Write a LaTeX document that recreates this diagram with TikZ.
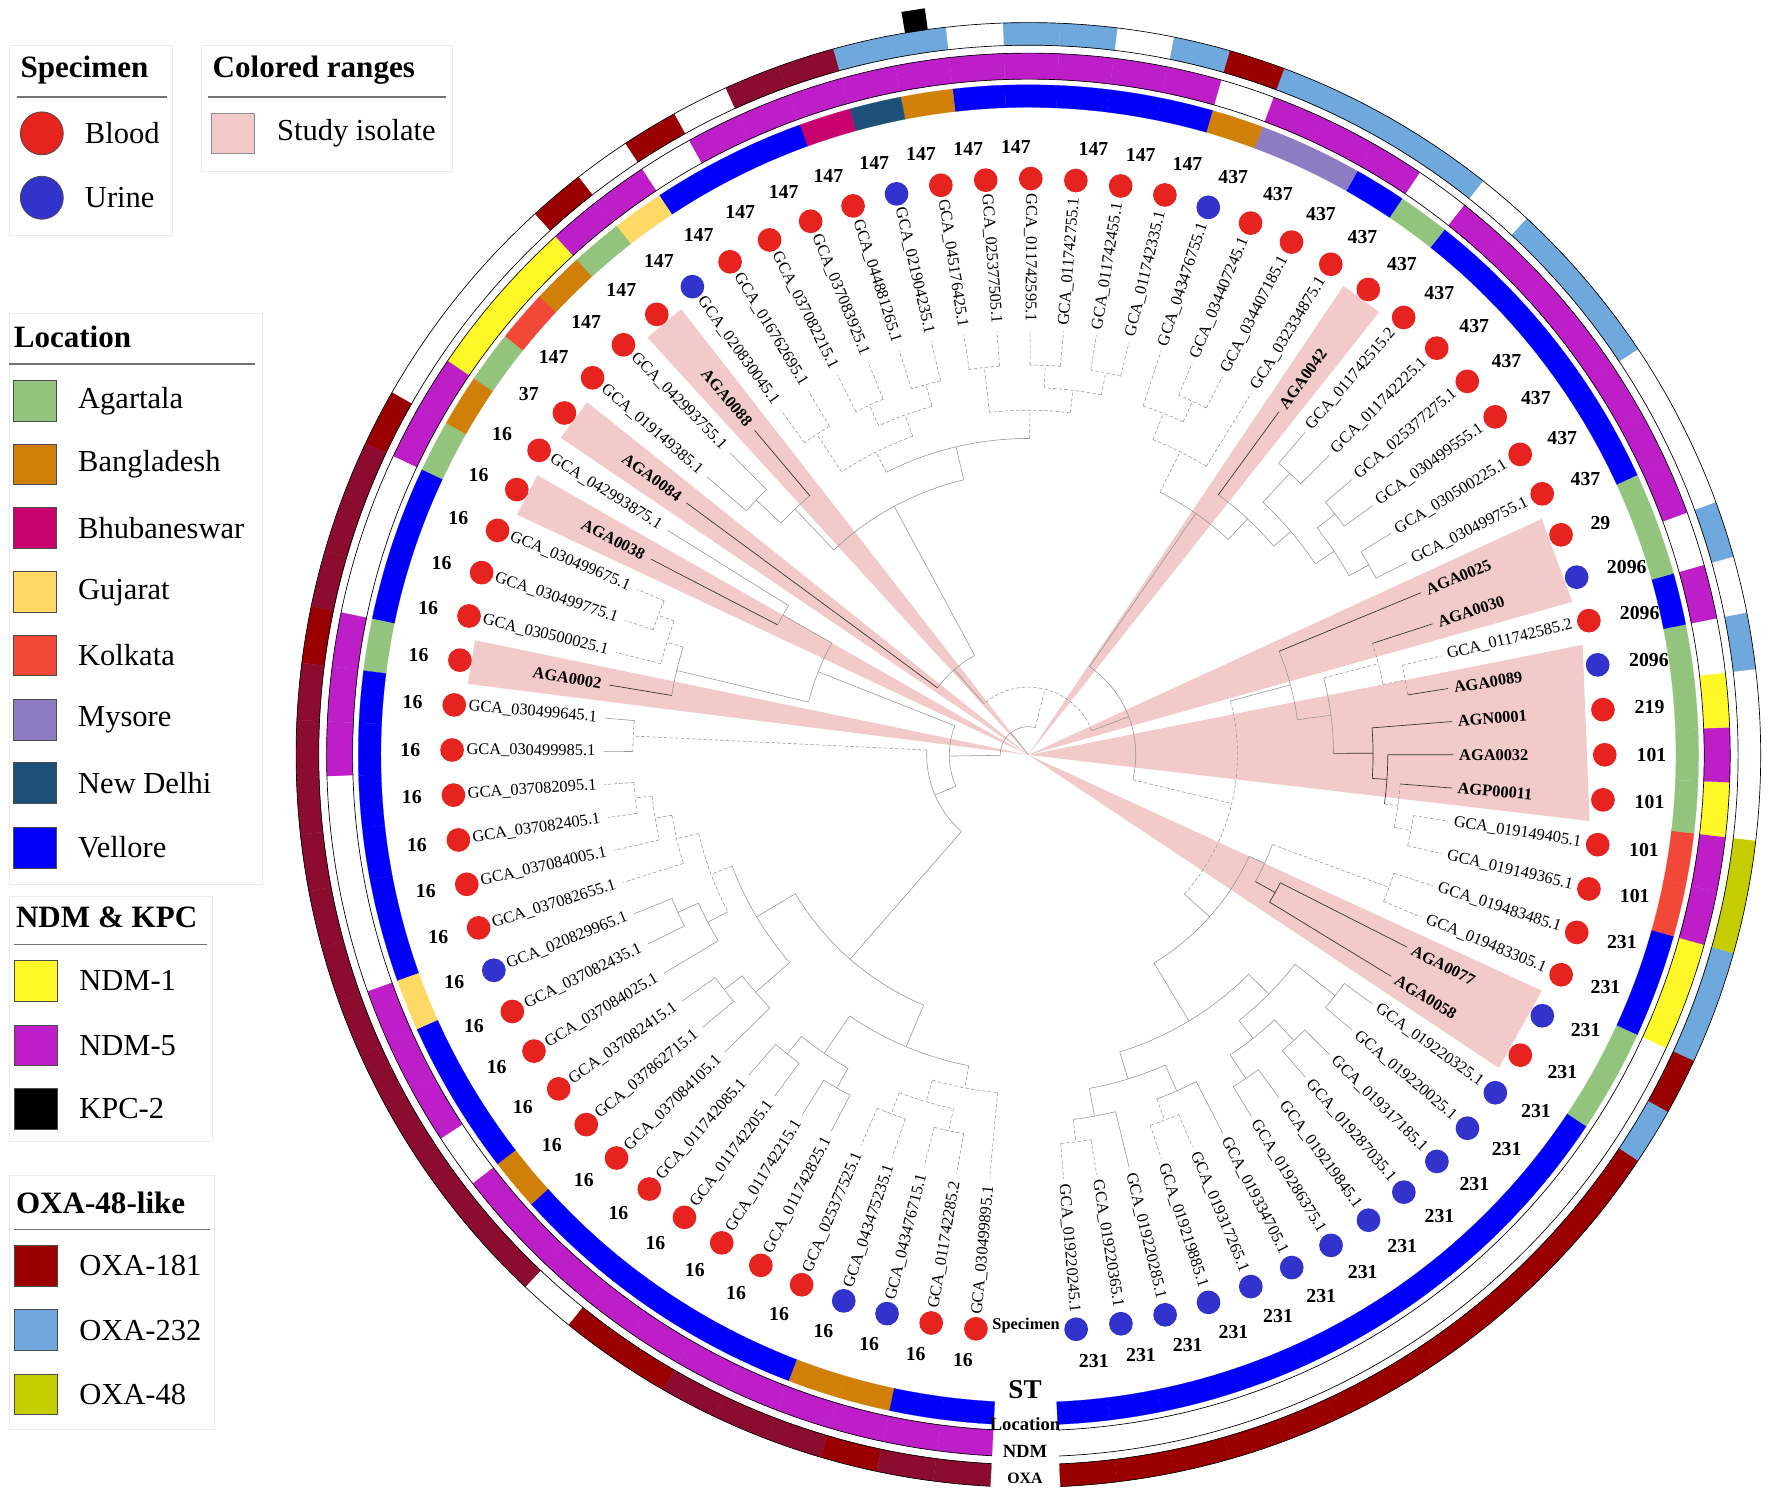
\documentclass[tikz,border=0pt]{standalone}
\usepackage{fontspec}
\setmainfont{Liberation Serif}
\definecolor{pinkr}{RGB}{243,202,202}
\definecolor{locA}{RGB}{147,196,125}
\definecolor{locB}{RGB}{208,128,8}
\definecolor{locH}{RGB}{200,0,110}
\definecolor{locG}{RGB}{255,217,102}
\definecolor{locK}{RGB}{242,72,56}
\definecolor{locM}{RGB}{142,124,195}
\definecolor{locN}{RGB}{28,80,120}
\definecolor{locV}{RGB}{0,0,250}
\definecolor{ndmY}{RGB}{255,248,40}
\definecolor{ndmM}{RGB}{190,30,200}
\definecolor{ndmW}{RGB}{255,255,255}
\definecolor{oxaR}{RGB}{155,0,0}
\definecolor{oxaC}{RGB}{140,12,48}
\definecolor{oxaL}{RGB}{111,168,220}
\definecolor{oxaO}{RGB}{197,204,0}
\definecolor{oxaW}{RGB}{255,255,255}
\definecolor{spr}{RGB}{230,35,30}
\definecolor{spb}{RGB}{50,50,205}
\pgfmathdeclarefunction{lfang}{1}{\pgfmathparse{-85.25+(#1-1)*4.4875}}
\newcommand\fwg{\mdseries}
\newcommand\fws{\bfseries}
\newcommand\TCl[6][trl]{%
 \pgfmathsetmacro\aN{lfang(#6)}%
 \pgfmathsetmacro\aL{lfang(#4)}%
 \pgfmathsetmacro\aH{lfang(#5)}%
 \draw[#1] (\aN:#2) -- (\aN:#3);%
 \draw[#1] (\aL:#3) arc[start angle=\aL, end angle=\aH, radius=#3];%
}
\newcommand\TLf[3][trl]{\pgfmathsetmacro\aN{lfang(#3)}\draw[#1] (\aN:#2) -- (\aN:376);}
\tikzset{
 lbl/.style={font=\fontsize{14.5}{16}\selectfont, inner sep=0pt},
 stl/.style={font=\fontsize{17.5}{20}\selectfont\bfseries, inner sep=0pt},
 spc/.style={circle, minimum size=21pt, inner sep=0pt},
 trl/.style={draw=black!42, line width=0.5pt},
 trd/.style={draw=black!42, line width=0.5pt, dash pattern=on 3pt off 2pt},
 stb/.style={draw=black!80, line width=0.6pt},
 legbox/.style={draw=black!8, line width=0.8pt, fill=white},
 legt/.style={font=\fontsize{27.5}{30}\selectfont\bfseries, anchor=west, inner sep=0pt},
 legi/.style={font=\fontsize{27}{30}\selectfont, anchor=west, inner sep=0pt},
 swatch/.style={draw=black!70, line width=0.7pt, minimum width=38pt, minimum height=36pt, inner sep=0pt},
 legline/.style={draw=black!55, line width=1.2pt},
 bot/.style={font=\bfseries, inner sep=0pt}
}
\begin{document}
\begin{tikzpicture}[x=1pt,y=1pt]
\useasboundingbox (0,0) rectangle (1568,1328);
\begin{scope}[shift={(910,660)}]
% study isolate wedges
\foreach \a/\b in {13/14,19/22,24/25,32/32,49/49,52/52,54/54,58/58}{
  \pgfmathsetmacro\wl{lfang(\a)-2.24375}
  \pgfmathsetmacro\wh{lfang(\b)+2.24375}
  \fill[pinkr] (0,0) -- (\wl:500) -- (\wh:500) -- cycle;
}
% tree
\TCl{0}{25}{36.9}{60.3}{48.6}
\TCl[trd]{25}{60}{24.66}{49.19}{36.9}
\TCl{60}{95}{17.0}{32.31}{24.66}
\TCl[trd]{95}{185}{10.69}{23.33}{17.0}
\TCl{185}{215}{6.875}{14.5}{10.69}
\TCl{215}{275}{3.75}{10}{6.875}
\TCl{275}{300}{2.25}{5.25}{3.75}
\TCl{300}{325}{1.5}{3}{2.25}
\TCl[trd]{325}{345}{1}{2}{1.5}
\TLf[trd]{345}{1}\TLf[trd]{345}{2}\TLf{325}{3}
\TCl{300}{325}{4.5}{6}{5.25}
\TCl[trd]{325}{345}{4}{5}{4.5}
\TLf[trd]{345}{4}\TLf[trd]{345}{5}\TLf{325}{6}
\TCl{275}{300}{8.5}{11.5}{10}
\TCl{300}{320}{7.5}{9.5}{8.5}
\TCl{320}{345}{7}{8}{7.5}\TLf{345}{7}\TLf{345}{8}
\TCl{320}{345}{9}{10}{9.5}\TLf{345}{9}\TLf{345}{10}
\TCl{300}{345}{11}{12}{11.5}\TLf{345}{11}\TLf{345}{12}
\TCl{215}{230}{13.5}{15.5}{14.5}
\TCl[stb]{230}{250}{13}{14}{13.5}\TLf[stb]{250}{13}\TLf[stb]{250}{14}
\TCl[trd]{230}{340}{15}{16}{15.5}\TLf[trd]{340}{15}\TLf[trd]{340}{16}
\TCl{185}{240}{21.66}{25}{23.33}
\TCl{240}{270}{20.06}{23.25}{21.66}
\TCl[stb]{270}{305}{19.125}{21}{20.06}
\TCl[stb]{305}{318}{18.25}{20}{19.125}
\TCl[trd]{318}{330}{17.5}{19}{18.25}
\TCl[trd]{330}{345}{17}{18}{17.5}\TLf[trd]{345}{17}\TLf[trd]{345}{18}
\TLf[stb]{330}{19}\TLf[stb]{318}{20}\TLf[stb]{305}{21}
\TCl[trd]{270}{320}{22.5}{24}{23.25}
\TCl[trd]{320}{340}{22}{23}{22.5}\TLf[stb]{340}{22}\TLf[trd]{340}{23}
\TLf[stb]{320}{24}
\TLf[stb]{240}{25}
\TCl{95}{260}{30.5}{34.125}{32.31}
\TCl{260}{285}{29}{32}{30.5}
\TCl{285}{305}{27.5}{30.5}{29}
\TCl{305}{325}{26.5}{28.5}{27.5}
\TCl{325}{345}{26}{27}{26.5}\TLf{345}{26}\TLf{345}{27}
\TCl{325}{345}{28}{29}{28.5}\TLf{345}{28}\TLf{345}{29}
\TCl{305}{340}{30}{31}{30.5}\TLf{340}{30}\TLf{340}{31}
\TLf[stb]{285}{32}
\TCl[trd]{260}{300}{33}{35.25}{34.125}
\TLf[trd]{300}{33}
\TCl[trd]{300}{325}{34.5}{36}{35.25}
\TCl[trd]{325}{345}{34}{35}{34.5}\TLf[trd]{345}{34}\TLf[trd]{345}{35}
\TLf[trd]{325}{36}
\TCl{60}{100}{46.375}{52}{49.19}
\TCl{100}{250}{43}{49.75}{46.375}
\TCl{250}{280}{40}{46}{43}
\TCl[trd]{280}{305}{38.5}{41.5}{40}
\TCl[trd]{305}{325}{37.5}{39.5}{38.5}
\TCl[trd]{325}{345}{37}{38}{37.5}\TLf[trd]{345}{37}\TLf[trd]{345}{38}
\TCl[trd]{325}{345}{39}{40}{39.5}\TLf[trd]{345}{39}\TLf[trd]{345}{40}
\TCl[trd]{305}{345}{41}{42}{41.5}\TLf[trd]{345}{41}\TLf[trd]{345}{42}
\TCl[trd]{280}{300}{44.5}{47.5}{46}
\TCl[trd]{300}{320}{43.5}{45.5}{44.5}
\TCl[trd]{320}{340}{43}{44}{43.5}\TLf[trd]{340}{43}\TLf[trd]{340}{44}
\TCl[trd]{320}{340}{45}{46}{45.5}\TLf[trd]{340}{45}\TLf[trd]{340}{46}
\TCl[trd]{300}{340}{47}{48}{47.5}\TLf[trd]{340}{47}\TLf[trd]{340}{48}
\TCl{250}{300}{49}{50.5}{49.75}
\TLf[stb]{300}{49}
\TCl{300}{330}{50}{51}{50.5}\TLf{330}{50}\TLf{330}{51}
\TLf[stb]{100}{52}
\TCl{25}{70}{55.3}{65.3}{60.3}
\TCl{70}{200}{53.5}{57.1}{55.3}
\TCl{200}{250}{53}{54}{53.5}\TLf{250}{53}\TLf[stb]{250}{54}
\TCl{200}{320}{56.25}{58}{57.1}
\TCl[trd]{320}{335}{55.5}{57}{56.25}
\TCl[trd]{335}{350}{55}{56}{55.5}\TLf[trd]{350}{55}\TLf[trd]{350}{56}
\TLf[trd]{335}{57}\TLf[stb]{320}{58}
\TCl{70}{90}{59.5}{71.0}{65.3}
\TCl[trd]{90}{350}{59}{60}{59.5}\TLf{350}{59}\TLf{350}{60}
\TCl{90}{240}{66.97}{75.1}{71.0}
\TCl{240}{280}{64.7}{69.25}{66.97}
\TCl[trd]{280}{300}{63.1}{66.25}{64.7}
\TCl[trd]{300}{320}{62.25}{64}{63.1}
\TCl[trd]{320}{335}{61.5}{63}{62.25}
\TCl[trd]{335}{350}{61}{62}{61.5}\TLf[trd]{350}{61}\TLf[trd]{350}{62}
\TLf[trd]{335}{63}\TLf[trd]{320}{64}
\TCl{300}{320}{65.5}{67}{66.25}
\TCl{320}{340}{65}{66}{65.5}\TLf{340}{65}\TLf{340}{66}
\TLf{320}{67}
\TCl{280}{320}{68.5}{70}{69.25}
\TCl{320}{340}{68}{69}{68.5}\TLf{340}{68}\TLf{340}{69}
\TLf{320}{70}
\TCl{240}{280}{72.5}{77.75}{75.1}
\TCl{280}{320}{71.5}{73.5}{72.5}
\TCl{320}{340}{71}{72}{71.5}\TLf{340}{71}\TLf{340}{72}
\TCl{320}{340}{73}{74}{73.5}\TLf{340}{73}\TLf{340}{74}
\TCl[trd]{280}{300}{76.5}{79}{77.75}
\TCl[trd]{300}{320}{75.5}{77.5}{76.5}
\TCl[trd]{320}{340}{75}{76}{75.5}\TLf[trd]{340}{75}\TLf[trd]{340}{76}
\TCl[trd]{320}{340}{77}{78}{77.5}\TLf[trd]{340}{77}\TLf[trd]{340}{78}
\TLf[trd]{300}{79}
% leaves, rings
\foreach \k/\nm/\ls/\sp/\st/\lc/\nc/\oc in {
1/GCA\_019220245.1/g/b/231/V/W/R,
2/GCA\_019220365.1/g/b/231/V/W/R,
3/GCA\_019220285.1/g/b/231/V/W/R,
4/GCA\_019219885.1/g/b/231/V/W/R,
5/GCA\_019317265.1/g/b/231/V/W/R,
6/GCA\_019334705.1/g/b/231/V/W/R,
7/GCA\_019286375.1/g/b/231/V/W/R,
8/GCA\_019219845.1/g/b/231/V/W/R,
9/GCA\_019287035.1/g/b/231/V/W/R,
10/GCA\_019317185.1/g/b/231/V/W/R,
11/GCA\_019220025.1/g/b/231/V/W/R,
12/GCA\_019220325.1/g/b/231/V/W/R,
13/AGA0058/s/r/231/A/W/L,
14/AGA0077/s/b/231/A/W/R,
15/GCA\_019483305.1/g/r/231/V/Y/L,
16/GCA\_019483485.1/g/r/231/V/Y/L,
17/GCA\_019149365.1/g/r/101/K/M/O,
18/GCA\_019149405.1/g/r/101/K/M/O,
19/AGP00011/s/r/101/A/Y/W,
20/AGA0032/s/r/101/A/M/W,
21/AGN0001/s/r/219/A/Y/W,
22/AGA0089/s/b/2096/A/W/L,
23/GCA\_011742585.2/g/r/2096/V/M/W,
24/AGA0030/s/b/2096/A/W/L,
25/AGA0025/s/r/29/A/M/W,
26/GCA\_030499755.1/g/r/437/V/M/W,
27/GCA\_030500225.1/g/r/437/V/M/W,
28/GCA\_030499555.1/g/r/437/V/M/L,
29/GCA\_025377275.1/g/r/437/V/M/L,
30/GCA\_011742225.1/g/r/437/V/M/L,
31/GCA\_011742515.2/g/r/437/V/M/W,
32/AGA0042/s/r/437/A/W/L,
33/GCA\_032334875.1/g/r/437/V/M/L,
34/GCA\_034407185.1/g/r/437/M/M/L,
35/GCA\_034407245.1/g/r/437/M/M/L,
36/GCA\_043476755.1/g/b/437/B/W/R,
37/GCA\_011742335.1/g/r/147/V/M/L,
38/GCA\_011742455.1/g/r/147/V/M/W,
39/GCA\_011742755.1/g/r/147/V/M/L,
40/GCA\_011742595.1/g/r/147/V/M/L,
41/GCA\_025377505.1/g/r/147/V/M/W,
42/GCA\_045176425.1/g/r/147/B/M/L,
43/GCA\_021904235.1/g/b/147/N/M/L,
44/GCA\_044881265.1/g/r/147/H/M/C,
45/GCA\_037083925.1/g/r/147/V/M/C,
46/GCA\_037082215.1/g/r/147/V/M/W,
47/GCA\_016762695.1/g/r/147/V/W/R,
48/GCA\_020830045.1/g/b/147/G/M/W,
49/AGA0088/s/r/147/A/M/R,
50/GCA\_042993755.1/g/r/147/B/Y/W,
51/GCA\_019149385.1/g/r/147/K/Y/W,
52/AGA0084/s/r/37/A/Y/W,
53/GCA\_042993875.1/g/r/16/B/M/W,
54/AGA0038/s/r/16/A/M/R,
55/GCA\_030499675.1/g/r/16/V/W/C,
56/GCA\_030499775.1/g/r/16/V/W/C,
57/GCA\_030500025.1/g/r/16/V/W/C,
58/AGA0002/s/r/16/A/M/R,
59/GCA\_030499645.1/g/r/16/V/M/C,
60/GCA\_030499985.1/g/r/16/V/M/C,
61/GCA\_037082095.1/g/r/16/V/W/C,
62/GCA\_037082405.1/g/r/16/V/W/C,
63/GCA\_037084005.1/g/r/16/V/W/C,
64/GCA\_037082655.1/g/r/16/V/W/C,
65/GCA\_020829965.1/g/b/16/G/M/C,
66/GCA\_037082435.1/g/r/16/V/M/C,
67/GCA\_037084025.1/g/r/16/V/M/C,
68/GCA\_037082415.1/g/r/16/V/W/C,
69/GCA\_037862715.1/g/r/16/B/M/C,
70/GCA\_037084105.1/g/r/16/V/M/C,
71/GCA\_011742085.1/g/r/16/V/M/W,
72/GCA\_011742205.1/g/r/16/V/M/R,
73/GCA\_011742215.1/g/r/16/V/M/R,
74/GCA\_011742825.1/g/r/16/V/M/C,
75/GCA\_025377525.1/g/r/16/V/M/C,
76/GCA\_043475235.1/g/b/16/B/M/C,
77/GCA\_043476715.1/g/b/16/B/M/R,
78/GCA\_011742285.2/g/r/16/V/M/C,
79/GCA\_030499895.1/g/r/16/V/M/C}{
  \pgfmathsetmacro\ta{lfang(\k)}
  \pgfmathsetmacro\tl{\ta-2.24375}
  \pgfmathsetmacro\th{\ta+2.24375}
  \edef\cL{loc\lc}\edef\cN{ndm\nc}\edef\cO{oxa\oc}\edef\cS{sp\sp}
  \path[fill=\cL,draw=\cL,line width=0.2pt] (\tl:573) arc[start angle=\tl,end angle=\th,radius=573] -- (\th:593) arc[start angle=\th,end angle=\tl,radius=593] -- cycle;
  \path[fill=\cN,draw=\cN,line width=0.2pt] (\tl:598) arc[start angle=\tl,end angle=\th,radius=598] -- (\th:621) arc[start angle=\th,end angle=\tl,radius=621] -- cycle;
  \path[fill=\cO,draw=\cO,line width=0.2pt] (\tl:628) arc[start angle=\tl,end angle=\th,radius=628] -- (\th:648) arc[start angle=\th,end angle=\tl,radius=648] -- cycle;
  \ifnum\k<40
    \node[lbl,anchor=west,rotate=\ta] (lab\k) at (\ta:381) {\csname fw\ls\endcsname\nm};
    \node[stl,anchor=west] (st\k) at (\ta:538) {\st};
  \else
    \pgfmathsetmacro\tr{\ta+180}
    \node[lbl,anchor=east,rotate=\tr] (lab\k) at (\ta:383) {\csname fw\ls\endcsname\nm};
    \node[stl,anchor=east] (st\k) at (\ta:538) {\st};
  \fi
  \node[spc,fill=\cS] (sp\k) at (\ta:510) {};
}
% ring outlines
\foreach \r in {598,621,628,648}{
  \draw[line width=0.6pt] (-87.49:\r) arc[start angle=-87.49,end angle=267.02,radius=\r];
}
% KPC-2
\fill[black] (97.9:648) -- (99.7:648) -- (99.7:667) -- (97.9:667) -- cycle;
\end{scope}
% ring captions
\node[bot,font=\fontsize{14.5}{16}\selectfont\bfseries] (capsp) at (908,155) {Specimen};
\node[bot,font=\fontsize{24}{26}\selectfont\bfseries] (capst) at (907,98) {ST};
\node[bot,font=\fontsize{16.5}{18}\selectfont\bfseries] (caploc) at (907,68) {Location};
\node[bot,font=\fontsize{16.5}{18}\selectfont\bfseries] (capndm) at (907,44) {NDM};
\node[bot,font=\fontsize{14}{16}\selectfont\bfseries] (capoxa) at (907,20) {OXA};
% legend: Specimen
\draw[legbox] (8,1120) rectangle (153,1288);
\node[legt] (tspec) at (18,1266) {Specimen};
\draw[legline] (15,1242) -- (148,1242);
\node[circle,draw=black!70,line width=0.7pt,fill=spr,minimum size=38pt,inner sep=0pt] (lgblood) at (37,1210) {};
\node[legi] (tblood) at (75,1210) {Blood};
\node[circle,draw=black!70,line width=0.7pt,fill=spb,minimum size=38pt,inner sep=0pt] (lgurine) at (37,1153) {};
\node[legi] (turine) at (75,1153) {Urine};
% legend: Colored ranges
\draw[legbox] (178,1176) rectangle (400,1288);
\node[legt] (tcol) at (188,1266) {Colored ranges};
\draw[legline] (184,1242) -- (395,1242);
\node[swatch,fill=pinkr,draw=black!45] (lgpink) at (206,1210) {};
\node[legi] (tstudy) at (245,1210) {Study isolate};
% legend: Location
\draw[legbox] (8,545) rectangle (232,1051);
\node[legt] (tloc) at (12,1030) {Location};
\draw[legline] (8,1006) -- (226,1006);
\foreach \c/\y/\t in {A/973/Agartala,B/917/Bangladesh,H/861/Bhubaneswar,G/804/Gujarat,K/748/Kolkata,M/691/Mysore,N/635/New Delhi,V/578/Vellore}{
  \node[swatch,fill=loc\c] (ls\c) at (31,\y) {};
  \node[legi] (lt\c) at (69,\y) {\t};
}
% legend: NDM & KPC
\draw[legbox] (8,318) rectangle (188,535);
\node[legt] (tndm) at (14,516) {NDM \& KPC};
\draw[legline] (12,492) -- (183,492);
\node[swatch,fill=ndmY] (nsY) at (32,460) {};
\node[legi] (ntY) at (70,460) {NDM-1};
\node[swatch,fill=ndmM] (nsM) at (32,403) {};
\node[legi] (ntM) at (70,403) {NDM-5};
\node[swatch,fill=black] (nsK) at (32,347) {};
\node[legi] (ntK) at (70,347) {KPC-2};
% legend: OXA-48-like
\draw[legbox] (8,63) rectangle (190,288);
\node[legt] (toxa) at (14,264) {OXA-48-like};
\draw[legline] (12,240) -- (186,240);
\node[swatch,fill=oxaR] (osR) at (32,208) {};
\node[legi] (otR) at (70,208) {OXA-181};
\node[swatch,fill=oxaL] (osL) at (32,151) {};
\node[legi] (otL) at (70,151) {OXA-232};
\node[swatch,fill=oxaO] (osO) at (32,94) {};
\node[legi] (otO) at (70,94) {OXA-48};
\end{tikzpicture}
\end{document}
